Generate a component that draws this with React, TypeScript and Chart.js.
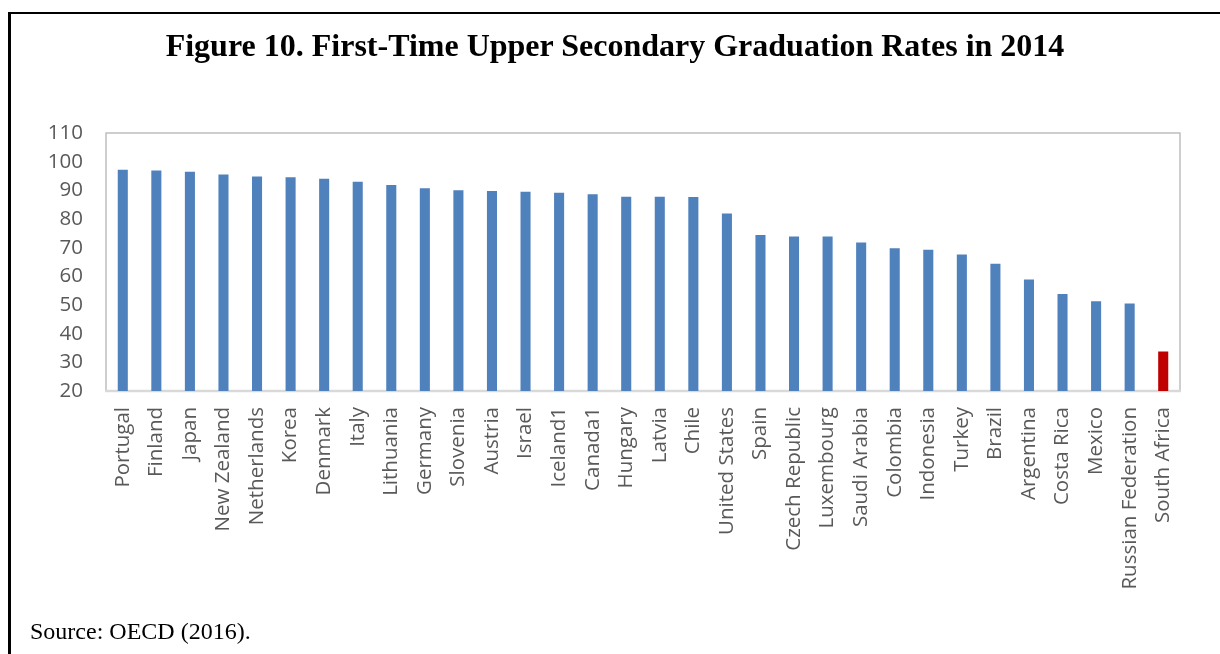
import React, { useEffect, useRef } from "react";
import { Chart, registerables } from "chart.js";

Chart.register(...registerables);

const TITLE = "Figure 10. First-Time Upper Secondary Graduation Rates in 2014";
const SOURCE = "Source: OECD (2016).";

const countries = [
  "Portugal", "Finland", "Japan", "New Zealand", "Netherlands", "Korea", "Denmark",
  "Italy", "Lithuania", "Germany", "Slovenia", "Austria", "Israel", "Iceland1",
  "Canada1", "Hungary", "Latvia", "Chile", "United States", "Spain", "Czech Republic",
  "Luxembourg", "Saudi Arabia", "Colombia", "Indonesia", "Turkey", "Brazil",
  "Argentina", "Costa Rica", "Mexico", "Russian Federation", "South Africa",
];

const rates = [
  97.2, 96.9, 96.5, 95.5, 94.8, 94.6, 94.0, 93.0, 91.9, 90.7, 90.0, 89.8, 89.5,
  89.2, 88.6, 87.8, 87.8, 87.7, 81.9, 74.4, 73.9, 73.9, 71.8, 69.8, 69.3, 67.6,
  64.4, 58.9, 53.8, 51.3, 50.5, 33.8,
];

const highlighted = ["South Africa"];

const yMin = 20;
const yMax = 110;
const yStep = 10;

const BLUE = "#4F81BD";
const RED = "#C00000";

const frame = {
  id: "plotFrame",
  beforeDatasetsDraw(chart: any) {
    const { ctx, chartArea: a } = chart;
    ctx.save();
    ctx.strokeStyle = "#BFBFBF";
    ctx.lineWidth = 1.5;
    ctx.beginPath();
    ctx.moveTo(a.left, a.bottom);
    ctx.lineTo(a.left, a.top);
    ctx.lineTo(a.right, a.top);
    ctx.lineTo(a.right, a.bottom);
    ctx.stroke();
    ctx.strokeStyle = "#D9D9D9";
    ctx.lineWidth = 2.5;
    ctx.beginPath();
    ctx.moveTo(a.left - 1, a.bottom);
    ctx.lineTo(a.right + 1, a.bottom);
    ctx.stroke();
    ctx.restore();
  },
};

export default function App() {
  const ref = useRef<HTMLCanvasElement>(null);

  useEffect(() => {
    if (!ref.current) return;
    const chart = new Chart(ref.current, {
      type: "bar",
      data: {
        labels: countries,
        datasets: [
          {
            data: rates,
            backgroundColor: countries.map((c) => (highlighted.includes(c) ? RED : BLUE)),
            borderWidth: 0,
            categoryPercentage: 1,
            barPercentage: 0.3,
          },
        ],
      },
      options: {
        animation: false,
        responsive: false,
        maintainAspectRatio: false,
        layout: { padding: { left: 0, top: 133, right: 40, bottom: 0 } },
        plugins: {
          legend: { display: false },
          title: { display: false },
          tooltip: { enabled: false },
        },
        scales: {
          x: {
            grid: { display: false },
            border: { display: false },
            afterFit: (s: any) => {
              s.height = 263;
            },
            ticks: {
              autoSkip: false,
              maxRotation: 90,
              minRotation: 90,
              padding: 8,
              color: "#595959",
              font: { family: "'Open Sans'", size: 20.5 },
            },
          },
          y: {
            min: yMin,
            max: yMax,
            grid: { display: false },
            border: { display: false },
            afterFit: (s: any) => {
              s.width = 106;
            },
            ticks: {
              stepSize: yStep,
              padding: 15,
              color: "#595959",
              font: { family: "'Open Sans'", size: 20.5 },
            },
          },
        },
      },
      plugins: [frame],
    });
    return () => chart.destroy();
  }, []);

  return (
    <div style={{ position: "absolute", left: 0, top: 0, width: 1220, height: 654, background: "#fff", overflow: "hidden" }}>
      <div
        style={{
          position: "absolute",
          left: 8,
          top: 12,
          width: 1230,
          height: 700,
          borderTop: "2px solid #000",
          borderLeft: "3px solid #000",
          boxSizing: "border-box",
        }}
      />
      <canvas ref={ref} width={1220} height={654} style={{ position: "absolute", left: 0, top: 0, width: 1220, height: 654 }} />
      <div
        style={{
          position: "absolute",
          left: 0,
          width: 1230,
          top: 24,
          textAlign: "center",
          fontFamily: "'Liberation Serif', 'Times New Roman', serif",
          fontWeight: "bold",
          fontSize: 32,
          lineHeight: "42px",
          color: "#000",
        }}
      >
        {TITLE}
      </div>
      <div
        style={{
          position: "absolute",
          left: 30,
          top: 616,
          fontFamily: "'Liberation Serif', 'Times New Roman', serif",
          fontSize: 24,
          lineHeight: "30px",
          color: "#000",
        }}
      >
        {SOURCE}
      </div>
    </div>
  );
}
